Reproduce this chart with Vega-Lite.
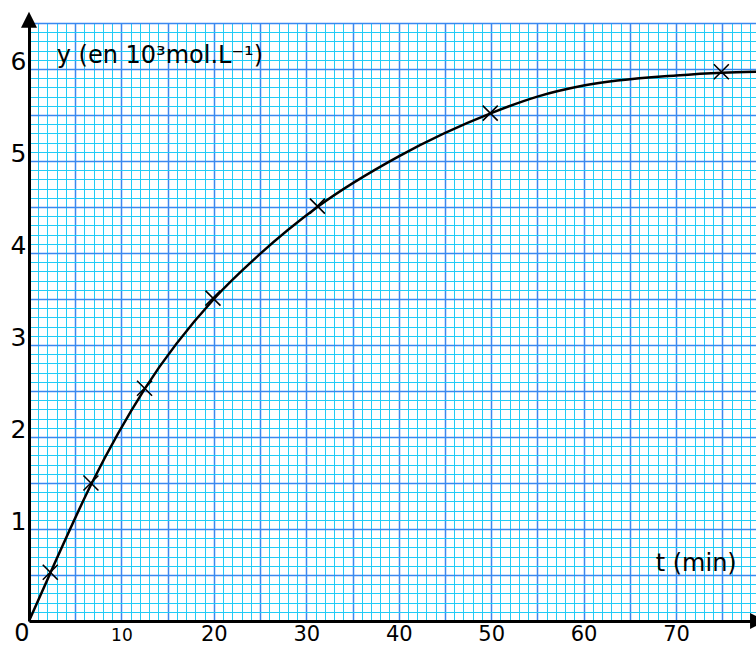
{
  "$schema": "https://vega.github.io/schema/vega-lite/v6.json",
  "autosize": "none",
  "padding": {"left": 29, "top": 23, "right": 0, "bottom": 25},
  "width": 727,
  "height": 598,
  "background": "white",
  "config": {
    "view": {"stroke": null},
    "font": "DejaVu Sans",
    "axis": {"labelFont": "DejaVu Sans", "labelColor": "black", "titleFont": "DejaVu Sans", "gridColor": "#22ccf6", "tickColor": "#22ccf6", "domainColor": "#22ccf6"}
  },
  "datasets": {
    "curve": [
      {"t": 0, "y": 0},
      {"t": 2.3, "y": 0.52},
      {"t": 6.8, "y": 1.5},
      {"t": 12.5, "y": 2.52},
      {"t": 20, "y": 3.5},
      {"t": 25, "y": 3.99},
      {"t": 31.2, "y": 4.5},
      {"t": 40, "y": 5.05},
      {"t": 50, "y": 5.52},
      {"t": 55, "y": 5.7},
      {"t": 60, "y": 5.82},
      {"t": 70, "y": 5.93},
      {"t": 75, "y": 5.96},
      {"t": 79, "y": 5.97}
    ],
    "points": [
      {"t": 2.3, "y": 0.53},
      {"t": 6.7, "y": 1.5},
      {"t": 12.5, "y": 2.53},
      {"t": 19.9, "y": 3.51},
      {"t": 31.2, "y": 4.51},
      {"t": 49.9, "y": 5.52},
      {"t": 74.9, "y": 5.97}
    ],
    "arrowUp": [{"t": 0, "y": 6.534}],
    "arrowRight": [{"t": 78.87, "y": 0}],
    "ytitle": [{"t": 3.0, "y": 6.07, "label": "y (en 10³mol.L⁻¹)"}],
    "xtitle": [{"t": 67.8, "y": 0.544, "label": "t (min)"}]
  },
  "layer": [
    {
      "data": {"name": "curve"},
      "mark": {"type": "point", "opacity": 0},
      "encoding": {
        "x": {"field": "t", "type": "quantitative", "scale": {"domain": [0, 78.65], "nice": false, "zero": false},
          "axis": {"orient": "bottom", "values": [0,1,2,3,4,5,6,7,8,9,10,11,12,13,14,15,16,17,18,19,20,21,22,23,24,25,26,27,28,29,30,31,32,33,34,35,36,37,38,39,40,41,42,43,44,45,46,47,48,49,50,51,52,53,54,55,56,57,58,59,60,61,62,63,64,65,66,67,68,69,70,71,72,73,74,75,76,77,78],
            "grid": true, "gridColor": "#22ccf6", "gridWidth": 1, "gridOpacity": 1, "labels": false, "ticks": false, "domain": false, "title": null}},
        "y": {"field": "y", "type": "quantitative", "scale": {"domain": [0, 6.5], "nice": false, "zero": false},
          "axis": {"orient": "left", "values": [0,0.1,0.2,0.3,0.4,0.5,0.6,0.7,0.8,0.9,1,1.1,1.2,1.3,1.4,1.5,1.6,1.7,1.8,1.9,2,2.1,2.2,2.3,2.4,2.5,2.6,2.7,2.8,2.9,3,3.1,3.2,3.3,3.4,3.5,3.6,3.7,3.8,3.9,4,4.1,4.2,4.3,4.4,4.5,4.6,4.7,4.8,4.9,5,5.1,5.2,5.3,5.4,5.5,5.6,5.7,5.8,5.9,6,6.1,6.2,6.3,6.4,6.5],
            "grid": true, "gridColor": "#22ccf6", "gridWidth": 1, "gridOpacity": 1, "labels": false, "ticks": false, "domain": false, "title": null}}
      }
    },
    {
      "data": {"name": "curve"},
      "mark": {"type": "point", "opacity": 0},
      "encoding": {
        "x": {"field": "t", "type": "quantitative",
          "axis": {"orient": "bottom", "values": [0,5,10,15,20,25,30,35,40,45,50,55,60,65,70,75],
            "grid": true, "gridColor": "#3a88f0", "gridWidth": 1.5, "gridOpacity": 1, "labels": false, "ticks": false, "domain": false, "title": null}},
        "y": {"field": "y", "type": "quantitative",
          "axis": {"orient": "left", "values": [0,0.5,1,1.5,2,2.5,3,3.5,4,4.5,5,5.5,6,6.5],
            "grid": true, "gridColor": "#3a88f0", "gridWidth": 1.5, "gridOpacity": 1, "labels": false, "ticks": false, "domain": false, "title": null}}
      }
    },
    {
      "data": {"name": "curve"},
      "mark": {"type": "line", "color": "black", "strokeWidth": 2.5, "interpolate": "monotone"},
      "encoding": {
        "x": {"field": "t", "type": "quantitative",
          "axis": {"orient": "bottom", "values": [0,10,20,30,40,50,60,70], "grid": false, "ticks": false,
            "domain": true, "domainColor": "black", "domainWidth": 3,
            "labelFontSize": {"condition": [{"test": "datum.value == 10", "value": 17}, {"test": "datum.value == 0", "value": 24}], "value": 21},
            "labelAlign": {"condition": {"test": "datum.value == 0", "value": "right"}, "value": "center"},
            "labelBaseline": "alphabetic", "labelPadding": 19, "labelFlush": false, "labelOverlap": false, "title": null}},
        "y": {"field": "y", "type": "quantitative",
          "axis": {"orient": "left", "values": [1,2,3,4,5,6], "grid": false, "ticks": false,
            "domain": true, "domainColor": "black", "domainWidth": 3,
            "labelFontSize": 25, "labelBaseline": "alphabetic", "labelPadding": 3, "labelFlush": false, "labelOverlap": false, "title": null}}
      }
    },
    {
      "data": {"name": "points"},
      "mark": {"type": "point", "shape": "M-1,-1L1,1M-1,1L1,-1", "filled": false, "stroke": "black", "strokeWidth": 1.6, "size": 225, "opacity": 1},
      "encoding": {
        "x": {"field": "t", "type": "quantitative", "axis": null},
        "y": {"field": "y", "type": "quantitative", "axis": null}
      }
    },
    {
      "data": {"name": "arrowUp"},
      "mark": {"type": "point", "shape": "M0,-1L1,1L-1,1Z", "filled": true, "color": "black", "size": 256, "opacity": 1, "clip": false},
      "encoding": {
        "x": {"field": "t", "type": "quantitative", "axis": null},
        "y": {"field": "y", "type": "quantitative", "axis": null}
      }
    },
    {
      "data": {"name": "arrowRight"},
      "mark": {"type": "point", "shape": "M1,0L-1,-1L-1,1Z", "filled": true, "color": "black", "size": 256, "opacity": 1, "clip": false},
      "encoding": {
        "x": {"field": "t", "type": "quantitative", "axis": null},
        "y": {"field": "y", "type": "quantitative", "axis": null}
      }
    },
    {
      "data": {"name": "ytitle"},
      "mark": {"type": "text", "font": "DejaVu Sans", "fontSize": 24, "align": "left", "baseline": "alphabetic", "color": "black"},
      "encoding": {
        "x": {"field": "t", "type": "quantitative", "axis": null},
        "y": {"field": "y", "type": "quantitative", "axis": null},
        "text": {"field": "label"}
      }
    },
    {
      "data": {"name": "xtitle"},
      "mark": {"type": "text", "font": "DejaVu Sans", "fontSize": 24, "align": "left", "baseline": "alphabetic", "color": "black"},
      "encoding": {
        "x": {"field": "t", "type": "quantitative", "axis": null},
        "y": {"field": "y", "type": "quantitative", "axis": null},
        "text": {"field": "label"}
      }
    }
  ],
  "resolve": {"axis": {"x": "independent", "y": "independent"}}
}
